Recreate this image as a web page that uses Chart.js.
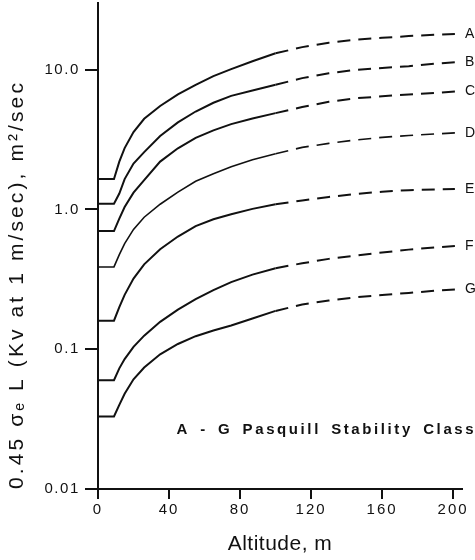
<!DOCTYPE html>
<html><head><meta charset="utf-8">
<script src="https://cdn.jsdelivr.net/npm/chart.js@4.4.1/dist/chart.umd.min.js"></script>
<style>html,body{margin:0;padding:0;background:#fff;}</style>
</head><body>
<canvas id="c" width="475" height="560"></canvas>
<script>
// ---- data ----
const altitudes = [0, 9, 12, 15, 20, 26, 35, 45, 55, 65, 75, 87, 100, 115, 130, 145, 160, 175, 190, 201];
const classA = [1.65,1.65,2.2,2.75,3.58,4.45,5.5,6.66,7.8,9.0,10.1,11.5,13.1,14.5,15.6,16.4,16.9,17.4,17.8,18.0];
const classB = [1.10,1.10,1.30,1.65,2.13,2.57,3.35,4.2,5.02,5.8,6.5,7.1,7.8,8.7,9.43,9.96,10.3,10.6,11.05,11.3];
const classC = [0.70,0.70,0.86,1.04,1.32,1.62,2.2,2.74,3.25,3.68,4.08,4.47,4.89,5.4,5.9,6.24,6.45,6.65,6.83,6.98];
const classD = [0.388,0.388,0.475,0.57,0.72,0.88,1.09,1.33,1.59,1.80,2.02,2.27,2.5,2.78,2.97,3.14,3.28,3.38,3.47,3.53];
const classE = [0.16,0.16,0.20,0.245,0.32,0.405,0.52,0.64,0.76,0.85,0.925,1.01,1.09,1.16,1.23,1.29,1.34,1.375,1.39,1.40];
const classF = [0.06,0.06,0.073,0.085,0.104,0.125,0.157,0.192,0.228,0.265,0.302,0.342,0.38,0.412,0.443,0.468,0.492,0.516,0.535,0.548];
const classG = [0.033,0.033,0.040,0.048,0.061,0.074,0.092,0.109,0.124,0.136,0.148,0.166,0.188,0.209,0.223,0.235,0.244,0.253,0.262,0.268];
const seriesNames = ['A','B','C','D','E','F','G'];
const seriesValues = [classA, classB, classC, classD, classE, classF, classG];
const xTickValues = [0, 40, 80, 120, 160, 200];
const xTickLabels = ['0', '40', '80', '120', '160', '200'];
const yTickValues = [0.01, 0.1, 1, 10];
const yTickLabels = ['0.01', '0.1', '1.0', '10.0'];
const xTitle = 'Altitude, m';
const yTitle = '0.45 σₑ L (Kv at 1 m/sec), m²/sec';
const noteText = 'A - G Pasquill Stability Class';
const dashedFrom = 100;

const FAMILY = '"Liberation Sans", Arial, sans-serif';
const INK = '#111';

const datasets = seriesValues.map((vals, i) => ({
  label: seriesNames[i],
  data: altitudes.map((a, j) => ({ x: a, y: vals[j] })),
  borderColor: INK,
  borderWidth: seriesNames[i] === 'D' ? 1.6 : 2,
  pointRadius: 0,
  tension: 0,
  fill: false,
  segment: { borderDash: c => c.p0.parsed.x >= dashedFrom ? [13, 8] : undefined }
}));

const spacing = { x: { title: '0.5px', labels: '2px' }, y: { title: '3.1px', labels: '1.6px' } };
const spacingPlugin = {
  id: 'spacing',
  beforeDraw(chart) {
    for (const id of ['x', 'y']) {
      const s = chart.scales[id];
      if (!s || s._spacedPatch) continue;
      s._spacedPatch = true;
      const dt = s.drawTitle.bind(s), dl = s.drawLabels.bind(s);
      s.drawTitle = function () { const c = this.ctx; const o = c.letterSpacing; c.letterSpacing = spacing[id].title; dt(); c.letterSpacing = o; };
      s.drawLabels = function (a) { const c = this.ctx; const o = c.letterSpacing; c.letterSpacing = spacing[id].labels; dl(a); c.letterSpacing = o; };
    }
  }
};

const labelPlugin = {
  id: 'endLabels',
  afterDatasetsDraw(chart) {
    const ctx = chart.ctx;
    ctx.save();
    ctx.fillStyle = INK;
    ctx.font = '14px ' + FAMILY;
    ctx.textAlign = 'left';
    ctx.textBaseline = 'middle';
    chart.data.datasets.forEach((ds, i) => {
      const meta = chart.getDatasetMeta(i);
      const pt = meta.data[meta.data.length - 1];
      ctx.fillText(ds.label, pt.x + 10, pt.y);
    });
    const xs = chart.scales.x, ys = chart.scales.y;
    ctx.font = 'bold 15px ' + FAMILY;
    ctx.letterSpacing = '2.6px';
    ctx.wordSpacing = '3.5px';
    ctx.textAlign = 'right';
    ctx.fillText(noteText, xs.getPixelForValue(213), ys.getPixelForValue(0.0265));
    ctx.restore();
  }
};

new Chart(document.getElementById('c'), {
  type: 'line',
  data: { datasets },
  options: {
    responsive: false,
    animation: false,
    layout: { padding: { top: 3, right: 13, bottom: 0, left: 0 } },
    plugins: { legend: { display: false }, tooltip: { enabled: false } },
    scales: {
      x: {
        type: 'linear', min: 0, max: 205,
        afterBuildTicks: s => { s.ticks = xTickValues.map(v => ({ value: v })); },
        afterFit: s => { s.height = 71; s.paddingLeft = 0; s.paddingRight = 0; },
        ticks: { callback: v => { const k = xTickValues.indexOf(v); return k >= 0 ? xTickLabels[k] : ''; }, font: { family: FAMILY, size: 15 }, color: INK, padding: 2, maxRotation: 0, autoSkip: false },
        grid: { drawOnChartArea: false, tickLength: 10, color: INK, lineWidth: 2 },
        border: { color: INK, width: 2 },
        title: { display: true, text: xTitle, font: { family: FAMILY, size: 21 }, color: INK, padding: { top: 0, bottom: 3 } }
      },
      y: {
        type: 'logarithmic', min: 0.01, max: 30,
        afterBuildTicks: s => { s.ticks = yTickValues.map(v => ({ value: v })); },
        afterFit: s => { s.width = 98; s.paddingTop = 0; s.paddingBottom = 0; },
        ticks: { callback: v => { const k = yTickValues.findIndex(t => Math.abs(t - v) < 1e-9); return k >= 0 ? yTickLabels[k] : ''; }, font: { family: FAMILY, size: 15 }, color: INK, padding: 5, autoSkip: false },
        grid: { drawOnChartArea: false, tickLength: 13, color: INK, lineWidth: 2 },
        border: { color: INK, width: 2 },
        title: { display: true, align: 'start', text: yTitle, font: { family: FAMILY, size: 21 }, color: INK, padding: { top: 5, bottom: 0 } }
      }
    }
  },
  plugins: [spacingPlugin, labelPlugin]
});
</script>
</body></html>
